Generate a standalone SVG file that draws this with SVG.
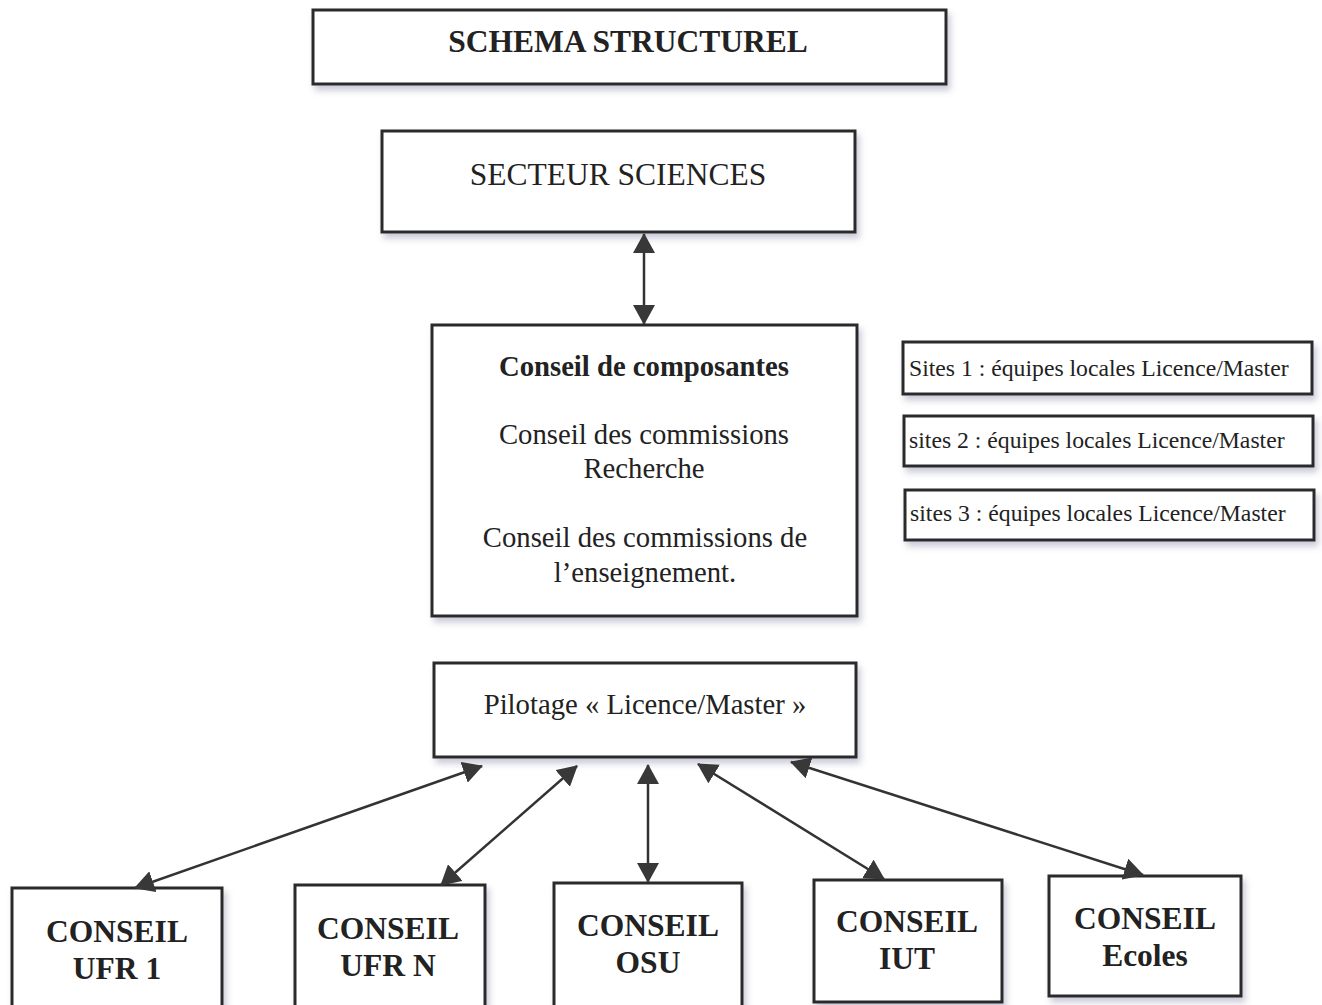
<svg xmlns="http://www.w3.org/2000/svg" width="1322" height="1005" viewBox="0 0 1322 1005">
<defs>
<filter id="sh" x="-10%" y="-10%" width="130%" height="140%">
<feGaussianBlur in="SourceAlpha" stdDeviation="3"/>
<feOffset dx="3" dy="5" result="b"/>
<feFlood flood-color="#6a6a90" flood-opacity="0.35"/>
<feComposite in2="b" operator="in"/>
<feMerge><feMergeNode/><feMergeNode in="SourceGraphic"/></feMerge>
</filter>
<marker id="ah" viewBox="0 0 20 22" refX="19" refY="11" markerWidth="20" markerHeight="22" markerUnits="userSpaceOnUse" orient="auto-start-reverse">
<path d="M0,0 L20,11 L0,22 Z" fill="#383838"/>
</marker>
<style>
.box{fill:#fff;stroke:#2b2b2b;stroke-width:3;filter:url(#sh)}
.t{font-family:"Liberation Serif","Times New Roman",serif;fill:#222;text-anchor:middle}
.b{font-weight:bold}
.s{font-family:"Liberation Serif","Times New Roman",serif;fill:#222;font-size:23.7px}
.m{font-size:28.7px}
.L{font-size:31.5px}
.c{stroke:#333;stroke-width:2.5;fill:none;marker-start:url(#ah);marker-end:url(#ah)}
</style>
</defs>
<rect width="1322" height="1005" fill="#fff"/>
<g id="title"><rect class="box" x="313" y="10" width="633" height="74"/><text class="t b L" x="628" y="52">SCHEMA STRUCTUREL</text></g>
<g id="secteur"><rect class="box" x="382" y="131" width="473" height="101"/><text class="t L" x="618" y="185">SECTEUR SCIENCES</text></g>
<g id="conseil-comp"><rect class="box" x="432" y="325" width="425" height="291"/>
<text class="t b m" x="644" y="376">Conseil de composantes</text>
<text class="t m" x="644" y="444">Conseil des commissions</text>
<text class="t m" x="644" y="478">Recherche</text>
<text class="t m" x="645" y="547">Conseil des commissions de</text>
<text class="t m" x="645" y="582">l’enseignement.</text></g>
<g id="site1"><rect class="box" x="903" y="342" width="409" height="52"/><text class="s" x="909" y="376">Sites 1 : équipes locales Licence/Master</text></g>
<g id="site2"><rect class="box" x="904" y="416" width="409" height="50"/><text class="s" x="909" y="448">sites 2 : équipes locales Licence/Master</text></g>
<g id="site3"><rect class="box" x="905" y="490" width="409" height="50"/><text class="s" x="910" y="521">sites 3 : équipes locales Licence/Master</text></g>
<g id="pilotage"><rect class="box" x="434" y="663" width="422" height="94"/><text class="t m" x="645" y="714">Pilotage « Licence/Master »</text></g>
<g id="ufr1"><rect class="box" x="12" y="888" width="210" height="130"/><text class="t b L" x="117" y="942">CONSEIL</text><text class="t b L" x="117" y="979">UFR 1</text></g>
<g id="ufrn"><rect class="box" x="295" y="885" width="190" height="130"/><text class="t b L" x="388" y="939">CONSEIL</text><text class="t b L" x="388" y="976">UFR N</text></g>
<g id="osu"><rect class="box" x="554" y="883" width="188" height="130"/><text class="t b L" x="648" y="936">CONSEIL</text><text class="t b L" x="648" y="973">OSU</text></g>
<g id="iut"><rect class="box" x="814" y="880" width="188" height="122"/><text class="t b L" x="907" y="932">CONSEIL</text><text class="t b L" x="907" y="969">IUT</text></g>
<g id="ecoles"><rect class="box" x="1049" y="876" width="192" height="120"/><text class="t b L" x="1145" y="929">CONSEIL</text><text class="t b L" x="1145" y="966">Ecoles</text></g>
<g id="connectors">
<line class="c" x1="644" y1="234" x2="644" y2="324"/>
<line class="c" x1="482" y1="766" x2="135" y2="888"/>
<line class="c" x1="577" y1="766" x2="441" y2="885"/>
<line class="c" x1="648" y1="765" x2="648" y2="882"/>
<line class="c" x1="698" y1="764" x2="884" y2="879"/>
<line class="c" x1="791" y1="762" x2="1143" y2="875"/>
</g>
</svg>
